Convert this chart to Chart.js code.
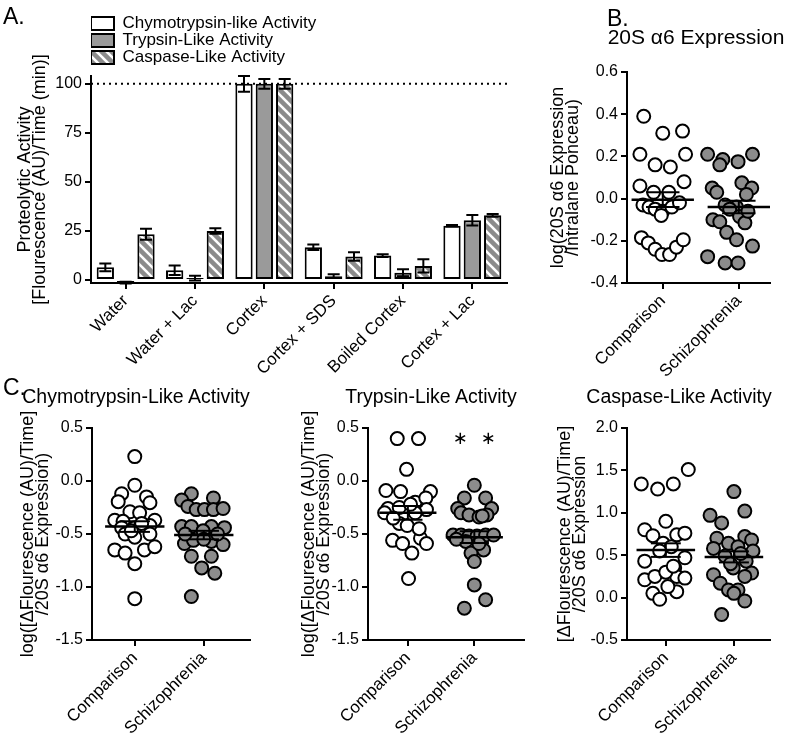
<!DOCTYPE html>
<html>
<head>
<meta charset="utf-8">
<script src="https://cdn.jsdelivr.net/npm/chart.js@4.4.1/dist/chart.umd.min.js"></script>
<style>
  body { margin: 0; background: #fff; overflow: hidden; }
  #wrap { position: relative; width: 800px; height: 737px; font-family: Arial, "Liberation Sans", sans-serif; color: #000; }
  canvas { position: absolute; }
  .lab { position: absolute; font-size: 23px; line-height: 1; }
  .ttl { position: absolute; line-height: 1; white-space: nowrap; transform: translateX(-50%); }
</style>
</head>
<body>
<div id="wrap">
  <canvas id="chartA" width="540" height="380" style="left:0;top:0"></canvas>
  <canvas id="chartB" width="260" height="380" style="left:540px;top:0"></canvas>
  <canvas id="chartC1" width="270" height="357" style="left:0;top:380px"></canvas>
  <canvas id="chartC2" width="242" height="357" style="left:290px;top:380px"></canvas>
  <canvas id="chartC3" width="250" height="357" style="left:550px;top:380px"></canvas>
  <div class="lab" style="left:3px;top:5px">A.</div>
  <div class="lab" style="left:607px;top:7px">B.</div>
  <div class="lab" style="left:3px;top:376px">C.</div>
  <div class="ttl" style="left:696px;top:26px;font-size:21px">20S &alpha;6 Expression</div>
  <div class="ttl" style="left:136px;top:387px;font-size:19.5px">Chymotrypsin-Like Activity</div>
  <div class="ttl" style="left:431px;top:387px;font-size:19.5px">Trypsin-Like Activity</div>
  <div class="ttl" style="left:679px;top:387px;font-size:19.5px">Caspase-Like Activity</div>
</div>
<script>
// ---- panel A : proteolytic activity (% of cortex) ----
const conditions = ["Water", "Water + Lac", "Cortex", "Cortex + SDS", "Boiled Cortex", "Cortex + Lac"];
const chymoMean = [6.5, 5, 100, 16.7, 12.5, 27.7];
const chymoErr = [2, 2.4, 4, 1.4, 0.7, 0.4];
const trypMean = [-1.3, 1, 100, 2, 3.7, 30.5];
const trypErr = [0.5, 1.2, 2.5, 0.9, 1.8, 2.7];
const caspMean = [23.4, 25, 100, 12, 7.2, 33];
const caspErr = [2.8, 1.4, 2.5, 2.2, 3.4, 0.7];
const aTicks = [0, 25, 50, 75, 100];
const refLine = 100;

// ---- scatter panels ----
const groups = ["Comparison", "Schizophrenia"];

// B: 20S a6 expression (x = jitter around group position)
const bCompX = [-0.25, 0.00, 0.26, -0.30, 0.30, -0.10, 0.10, -0.30, 0.28, -0.12, 0.08, -0.26, -0.18, -0.10, 0.00, 0.12, 0.22, -0.02, -0.28, -0.19, -0.10, -0.01, 0.09, 0.18, 0.27];
const bCompY = [0.39, 0.31, 0.32, 0.21, 0.21, 0.16, 0.15, 0.06, 0.08, 0.03, 0.03, -0.03, -0.04, -0.05, -0.06, -0.04, -0.02, -0.08, -0.185, -0.21, -0.24, -0.265, -0.265, -0.23, -0.195];
const bSchX = [-0.41, -0.21, -0.25, -0.01, 0.18, -0.35, -0.29, 0.04, 0.17, 0.10, -0.18, -0.03, -0.12, -0.34, -0.25, 0.01, 0.08, -0.16, -0.03, 0.18, -0.41, -0.18, -0.01, 0.12];
const bSchY = [0.21, 0.185, 0.16, 0.175, 0.21, 0.05, 0.03, 0.075, 0.05, 0.02, -0.03, -0.04, -0.05, -0.10, -0.11, -0.085, -0.115, -0.16, -0.195, -0.225, -0.275, -0.305, -0.305, -0.06];
const bMean = [-0.005, -0.04];
const bSem = [0.035, 0.03];
const bTicks = [-0.4, -0.2, 0, 0.2, 0.4, 0.6];

// C1: chymotrypsin-like
const c1CompX = [0.0, 0.0, -0.19, 0.17, -0.24, 0.22, -0.07, 0.07, -0.29, -0.17, 0.29, -0.19, 0.0, 0.22, -0.14, 0.0, 0.22, -0.29, -0.14, 0.14, 0.29, 0.0, 0.0, 0.10, -0.05];
const c1CompY = [0.23, -0.04, -0.12, -0.15, -0.195, -0.205, -0.29, -0.30, -0.37, -0.38, -0.37, -0.44, -0.44, -0.42, -0.50, -0.53, -0.50, -0.65, -0.68, -0.65, -0.62, -0.78, -1.11, -0.40, -0.47];
const c1SchX = [-0.18, -0.32, 0.14, -0.23, -0.11, 0.01, 0.14, 0.28, -0.32, -0.18, 0.11, 0.30, -0.28, -0.15, 0.11, 0.28, -0.18, 0.11, -0.03, 0.16, -0.18, -0.01, 0.0, -0.27, 0.20];
const c1SchY = [-0.12, -0.18, -0.16, -0.24, -0.27, -0.27, -0.27, -0.26, -0.43, -0.43, -0.43, -0.44, -0.59, -0.56, -0.57, -0.60, -0.71, -0.71, -0.82, -0.87, -1.09, -0.47, -0.55, -0.50, -0.50];
const c1Mean = [-0.43, -0.51];
const c1Sem = [0.05, 0.04];

// C2: trypsin-like
const c2CompX = [-0.16, 0.16, -0.02, -0.33, -0.11, 0.34, 0.11, 0.27, -0.30, -0.13, 0.28, -0.13, -0.01, -0.23, 0.19, 0.28, -0.08, 0.06, 0.01, -0.35, 0.11, -0.22, 0.17, 0.04];
const c2CompY = [0.40, 0.40, 0.11, -0.09, -0.10, -0.10, -0.20, -0.16, -0.26, -0.25, -0.27, -0.40, -0.42, -0.56, -0.54, -0.59, -0.59, -0.68, -0.92, -0.30, -0.30, -0.35, -0.45, -0.22];
const c2SchX = [0.0, -0.15, 0.17, -0.25, 0.26, -0.20, -0.08, 0.07, 0.19, -0.32, -0.20, -0.08, 0.04, 0.17, 0.29, -0.13, 0.14, -0.05, 0.0, 0.0, 0.17, -0.15, 0.07, -0.27, 0.12];
const c2SchY = [-0.04, -0.16, -0.16, -0.26, -0.26, -0.30, -0.32, -0.34, -0.32, -0.51, -0.51, -0.52, -0.52, -0.51, -0.51, -0.57, -0.65, -0.68, -0.76, -0.98, -1.12, -1.20, -0.59, -0.55, -0.33];
const c2Mean = [-0.30, -0.53];
const c2Sem = [0.065, 0.055];
const c2Stars = [2, 0.39];

// C3: caspase-like
const c3CompX = [0.33, -0.36, -0.12, 0.11, 0.0, -0.31, -0.19, 0.16, 0.28, -0.04, 0.08, -0.09, -0.31, 0.28, 0.13, -0.31, -0.16, 0.16, 0.28, -0.19, -0.09, 0.16, 0.03, 0.0, 0.11];
const c3CompY = [1.51, 1.34, 1.28, 1.34, 0.90, 0.80, 0.73, 0.74, 0.76, 0.64, 0.60, 0.55, 0.43, 0.47, 0.35, 0.21, 0.25, 0.25, 0.23, 0.05, -0.02, 0.07, 0.13, 0.30, 0.37];
const c3SchX = [0.0, 0.16, -0.35, -0.18, -0.25, -0.08, 0.16, 0.26, -0.30, 0.06, 0.28, -0.13, -0.01, 0.18, -0.30, 0.26, 0.16, -0.20, -0.08, 0.06, 0.0, 0.16, -0.18, 0.10, -0.05];
const c3SchY = [1.25, 1.02, 0.97, 0.88, 0.70, 0.64, 0.72, 0.68, 0.58, 0.60, 0.55, 0.49, 0.35, 0.43, 0.27, 0.29, 0.25, 0.17, 0.09, 0.09, 0.05, -0.04, -0.20, 0.52, 0.40];
const c3Mean = [0.56, 0.48];
const c3Sem = [0.08, 0.065];

const cTicks = [-1.5, -1.0, -0.5, 0, 0.5];
const c3Ticks = [-0.5, 0, 0.5, 1.0, 1.5, 2.0];

Chart.defaults.font.family = 'Arial, "Liberation Sans", Helvetica, sans-serif';
Chart.defaults.color = "#000";

const black = "#000";
const axisGrid = { drawOnChartArea: false, color: black, lineWidth: 2, tickLength: 6 };
const axisBorder = { color: black, width: 2 };

// diagonal hatch for caspase bars
const hatch = () => {
  const c = document.createElement("canvas");
  c.width = c.height = 10;
  const x = c.getContext("2d");
  x.fillStyle = "#fff";
  x.fillRect(0, 0, 10, 10);
  x.strokeStyle = "#8c8c8c";
  x.lineWidth = 4.5;
  [-10, 0, 10].forEach((o) => {
    x.beginPath();
    x.moveTo(o - 2, -2);
    x.lineTo(o + 12, 12);
    x.stroke();
  });
  return x.createPattern(c, "repeat");
};

const errBars = {
  id: "errBars",
  afterDatasetsDraw(chart) {
    const ctx = chart.ctx;
    const y = chart.scales.y;
    ctx.save();
    ctx.strokeStyle = black;
    ctx.lineWidth = 2;
    chart.data.datasets.forEach((ds, i) => {
      chart.getDatasetMeta(i).data.forEach((bar, j) => {
        const hi = y.getPixelForValue(ds.data[j] + ds.errors[j]);
        const lo = y.getPixelForValue(ds.data[j] - ds.errors[j]);
        ctx.beginPath();
        ctx.moveTo(bar.x, hi); ctx.lineTo(bar.x, lo);
        ctx.moveTo(bar.x - 6, hi); ctx.lineTo(bar.x + 6, hi);
        ctx.moveTo(bar.x - 6, lo); ctx.lineTo(bar.x + 6, lo);
        ctx.stroke();
      });
    });
    ctx.restore();
  },
};

const refLinePlugin = {
  id: "refLine",
  beforeDatasetsDraw(chart) {
    const { ctx, chartArea } = chart;
    const yy = chart.scales.y.getPixelForValue(refLine);
    ctx.save();
    ctx.setLineDash([2, 4]);
    ctx.lineWidth = 2;
    ctx.strokeStyle = black;
    ctx.beginPath();
    ctx.moveTo(chartArea.left, yy);
    ctx.lineTo(chartArea.right, yy);
    ctx.stroke();
    ctx.restore();
  },
};

new Chart(document.getElementById("chartA"), {
  type: "bar",
  data: {
    labels: conditions,
    datasets: [
      { label: "Chymotrypsin-like Activity", data: chymoMean, errors: chymoErr, backgroundColor: "#fff" },
      { label: "Trypsin-Like Activity", data: trypMean, errors: trypErr, backgroundColor: "#9a9a9a" },
      { label: "Caspase-Like Activity", data: caspMean, errors: caspErr, backgroundColor: hatch() },
    ].map((d) => ({ ...d, borderColor: black, borderWidth: 2, borderSkipped: false, barPercentage: 0.85, categoryPercentage: 0.88 })),
  },
  options: {
    responsive: false,
    animation: false,
    events: [],
    layout: { padding: { top: 15, right: 33, left: 0, bottom: 0 } },
    plugins: {
      tooltip: { enabled: false },
      legend: {
        position: "top",
        align: "start",
        fullSize: false,
        labels: {
          boxWidth: 23,
          boxHeight: 13,
          padding: 0,
          color: black,
          font: { size: 17 },
          // trailing spaces so every entry gets its own row
          generateLabels: (chart) =>
            Chart.defaults.plugins.legend.labels.generateLabels(chart).map((l) => ({ ...l, text: l.text + " ".repeat(16) })),
        },
      },
    },
    scales: {
      x: {
        grid: { ...axisGrid, offset: false },
        border: axisBorder,
        ticks: { font: { size: 17 }, color: black, minRotation: 45, maxRotation: 45, padding: 2, autoSkip: false },
        afterFit: (s) => { s.height = 97; },
      },
      y: {
        min: -1.5,
        max: 104,
        afterBuildTicks: (s) => { s.ticks = aTicks.map((v) => ({ value: v })); },
        grid: axisGrid,
        border: axisBorder,
        ticks: { font: { size: 16 }, color: black, padding: 3 },
        title: {
          display: true,
          text: ["Proteolytic Activity", "[Flourescence (AU)/Time (min)]"],
          font: { size: 18, lineHeight: 0.85 },
          color: black,
          padding: { top: 17, bottom: 0 },
        },
        afterFit: (s) => { s.width = 91; },
      },
    },
  },
  plugins: [refLinePlugin, errBars],
});

// ---- helpers for the dot plots ----
const seg = (x1, y1, x2, y2, w) => ({
  type: "line",
  data: [{ x: x1, y: y1 }, { x: x2, y: y2 }],
  borderColor: black,
  borderWidth: w,
  pointRadius: 0,
  fill: false,
  order: 0,
});

const meanSem = (g, m, s, half) => [
  seg(g - half, m, g + half, m, 2.5),
  seg(g - 0.22, m + s, g + 0.22, m + s, 2),
  seg(g - 0.22, m - s, g + 0.22, m - s, 2),
  seg(g, m - s, g, m + s, 2),
];

const starPlugin = {
  id: "stars",
  afterDatasetsDraw(chart) {
    const { ctx, scales } = chart;
    const x = scales.x.getPixelForValue(c2Stars[0]);
    const y = scales.y.getPixelForValue(c2Stars[1]);
    ctx.save();
    ctx.font = '18px "DejaVu Sans"';
    ctx.textAlign = "center";
    ctx.textBaseline = "middle";
    ctx.fillStyle = black;
    ctx.fillText("\u2217", x - 14, y);
    ctx.fillText("\u2217", x + 14, y);
    ctx.restore();
  },
};

const dotChart = (id, c) => {
  const pts = (xs, ys, g) => xs.map((x, i) => ({ x: g + x, y: ys[i] }));
  const dot = { type: "scatter", borderColor: black, borderWidth: 2, pointRadius: 6.5, order: 1 };
  const datasets = [
    ...meanSem(1, c.mean[0], c.sem[0], c.half),
    ...meanSem(2, c.mean[1], c.sem[1], c.half),
    { ...dot, data: pts(c.compX, c.compY, 1), backgroundColor: "#fff" },
    { ...dot, data: pts(c.schX, c.schY, 2), backgroundColor: "#8c8c8c" },
  ];
  new Chart(document.getElementById(id), {
    type: "scatter",
    data: { datasets },
    options: {
      responsive: false,
      animation: false,
      events: [],
      layout: { padding: { top: c.padTop, right: c.padRight, left: 0, bottom: 0 } },
      plugins: {
        legend: { display: false },
        tooltip: { enabled: false },
      },
      scales: {
        x: {
          type: "linear",
          min: c.xMin,
          max: c.xMax,
          afterBuildTicks: (s) => { s.ticks = [1, 2].map((v) => ({ value: v })); },
          grid: axisGrid,
          border: axisBorder,
          ticks: { callback: (v, i) => groups[i], font: { size: 17 }, color: black, minRotation: 45, maxRotation: 45, padding: 2, autoSkip: false },
          afterFit: (s) => { s.height = 97; },
        },
        y: {
          type: "linear",
          min: c.yTicks[0],
          max: c.yTicks[c.yTicks.length - 1],
          afterBuildTicks: (s) => { s.ticks = c.yTicks.map((v) => ({ value: v })); },
          grid: axisGrid,
          border: axisBorder,
          ticks: { callback: (v) => v.toFixed(1), font: { size: 16 }, color: black, padding: 3 },
          title: {
            display: true,
            text: c.yTitle,
            color: black,
            font: { size: 18, lineHeight: 0.85 },
            padding: { top: c.yTitlePad, bottom: 0 },
          },
          afterFit: (s) => { s.width = c.yWidth; },
        },
      },
    },
    plugins: c.plugins || [],
  });
};

dotChart("chartB", {
  padTop: 72, padRight: 30, yWidth: 87, yTitlePad: 10,
  yTitle: ["log(20S \u03b16 Expression", "/Intralane Ponceau)"],
  xMin: 0.53, xMax: 2.41, yTicks: bTicks, half: 0.41,
  compX: bCompX, compY: bCompY, schX: bSchX, schY: bSchY, mean: bMean, sem: bSem,
});

dotChart("chartC1", {
  padTop: 48, padRight: 20, yWidth: 92, yTitlePad: 20,
  yTitle: ["log([\u0394Flourescence (AU)/Time]", "/20S \u03b16 Expression)"],
  xMin: 0.38, xMax: 2.67, yTicks: cTicks, half: 0.43,
  compX: c1CompX, compY: c1CompY, schX: c1SchX, schY: c1SchY, mean: c1Mean, sem: c1Sem,
});

dotChart("chartC2", {
  padTop: 48, padRight: 5, yWidth: 78, yTitlePad: 11,
  yTitle: ["log([\u0394Flourescence (AU)/Time]", "/20S \u03b16 Expression)"],
  xMin: 0.40, xMax: 2.74, yTicks: cTicks, half: 0.43,
  compX: c2CompX, compY: c2CompY, schX: c2SchX, schY: c2SchY, mean: c2Mean, sem: c2Sem,
  plugins: [starPlugin],
});

dotChart("chartC3", {
  padTop: 48, padRight: 30, yWidth: 77, yTitlePad: 7,
  yTitle: ["[\u0394Flourescence (AU)/Time]", "/20S \u03b16 Expression"],
  xMin: 0.43, xMax: 2.53, yTicks: c3Ticks, half: 0.43,
  compX: c3CompX, compY: c3CompY, schX: c3SchX, schY: c3SchY, mean: c3Mean, sem: c3Sem,
});
</script>
</body>
</html>
